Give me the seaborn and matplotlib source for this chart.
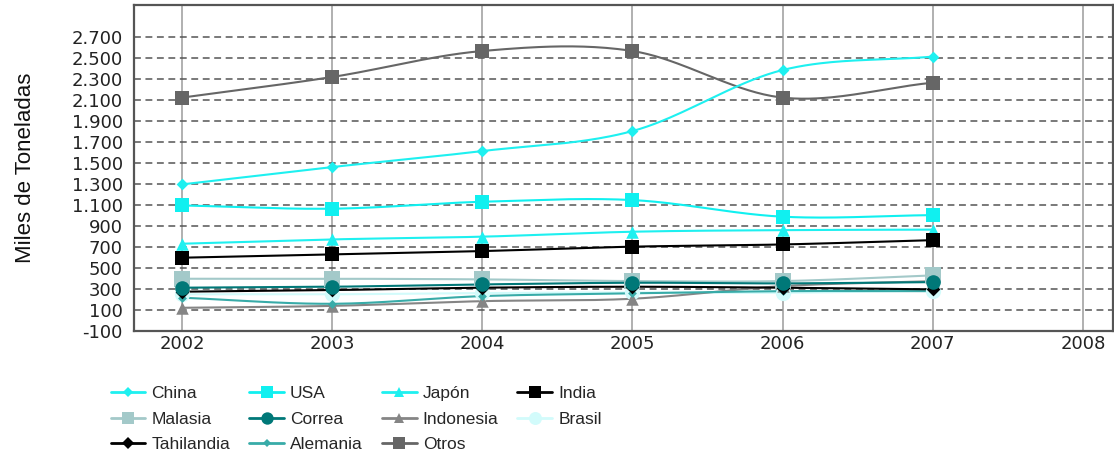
import numpy as np
import pandas as pd
import matplotlib
matplotlib.use("Agg")
import matplotlib.pyplot as plt
from matplotlib.lines import Line2D
from matplotlib.ticker import FuncFormatter, FixedLocator
import seaborn as sns

# --- data (miles de toneladas) ---
years = [2002, 2003, 2004, 2005, 2006, 2007]
china = [1295, 1460, 1612, 1802, 2382, 2510]
usa = [1095, 1064, 1130, 1146, 988, 1003]
japon = [731, 772, 798, 845, 860, 865]
india = [598, 629, 661, 703, 724, 765]
malasia = [398, 398, 392, 376, 376, 430]
correa = [313, 322, 344, 360, 354, 366]
indonesia = [122, 140, 185, 208, 328, 375]
brasil = [250, 250, 262, 268, 265, 285]
tahilandia = [275, 290, 313, 322, 313, 297]
alemania = [218, 160, 233, 258, 280, 280]
otros = [2120, 2316, 2563, 2563, 2120, 2262]

y_ticks = [-100, 100, 300, 500, 700, 900, 1100, 1300, 1500, 1700,
           1900, 2100, 2300, 2500, 2700]
x_ticks = [2002, 2003, 2004, 2005, 2006, 2007, 2008]

series = {
    "China": china, "USA": usa, "Japón": japon, "India": india,
    "Malasia": malasia, "Correa": correa, "Indonesia": indonesia,
    "Brasil": brasil, "Tahilandia": tahilandia, "Alemania": alemania,
    "Otros": otros,
}

styles = {
    "China":      dict(color="#1ef0f0", marker="D", size=6),
    "USA":        dict(color="#10f0f0", marker="s", size=10),
    "Japón":      dict(color="#1ef0f0", marker="^", size=9),
    "India":      dict(color="#000000", marker="s", size=9.5),
    "Malasia":    dict(color="#a3c9c9", marker="s", size=11),
    "Correa":     dict(color="#007878", marker="o", size=10.5),
    "Indonesia":  dict(color="#858585", marker="^", size=9),
    "Brasil":     dict(color="#d2fbfb", marker="o", size=11),
    "Tahilandia": dict(color="#000000", marker="D", size=7),
    "Alemania":   dict(color="#38aba8", marker="D", size=4.5),
    "Otros":      dict(color="#666666", marker="s", size=10),
}

draw_order = ["Otros", "China", "USA", "Japón", "India", "Brasil", "Malasia",
              "Indonesia", "Alemania", "Tahilandia", "Correa"]


def smooth_path(x, y, steps=40):
    """Catmull-Rom curve through the points, for a smoothed line."""
    x = np.asarray(x, float)
    y = np.asarray(y, float)
    px = np.concatenate([[2 * x[0] - x[1]], x, [2 * x[-1] - x[-2]]])
    py = np.concatenate([[2 * y[0] - y[1]], y, [2 * y[-1] - y[-2]]])
    t = np.linspace(0, 1, steps, endpoint=False)
    xs, ys = [], []
    for i in range(1, len(px) - 2):
        for arr, out in ((px, xs), (py, ys)):
            p0, p1, p2, p3 = arr[i - 1], arr[i], arr[i + 1], arr[i + 2]
            out.append(0.5 * ((2 * p1) + (-p0 + p2) * t
                              + (2 * p0 - 5 * p1 + 4 * p2 - p3) * t ** 2
                              + (-p0 + 3 * p1 - 3 * p2 + p3) * t ** 3))
    xs = np.concatenate(xs + [[x[-1]]])
    ys = np.concatenate(ys + [[y[-1]]])
    return xs, ys


sns.set_theme(style="white")
plt.rcParams["font.family"] = ["DejaVu Sans"]

fig = plt.figure(figsize=(11.14, 4.58), dpi=100)
ax = fig.add_axes([0.1203, 0.277, 0.8787, 0.712])

# grid: solid vertical lines per year, dashed horizontal lines
for xv in x_ticks:
    ax.axvline(xv, color="#aaaaaa", lw=1.3, zorder=0)
for yv in y_ticks[1:]:
    ax.axhline(yv, color="#555555", lw=1.1, ls=(0, (4.5, 3)), zorder=0)

for name in draw_order:
    vals = series[name]
    st = styles[name]
    sx, sy = smooth_path(years, vals)
    curve = pd.DataFrame({"year": sx, "value": sy})
    sns.lineplot(data=curve, x="year", y="value", color=st["color"],
                 lw=1.5, sort=False, estimator=None, ax=ax, zorder=2)
    pts = pd.DataFrame({"year": years, "value": vals})
    sns.scatterplot(data=pts, x="year", y="value", color=st["color"],
                    marker=st["marker"], s=st["size"] ** 2, linewidth=0,
                    ax=ax, zorder=3)

ax.set_xlim(2001.68, 2008.2)
ax.set_ylim(-100, 3000)
ax.xaxis.set_major_locator(FixedLocator(x_ticks))
ax.yaxis.set_major_locator(FixedLocator(y_ticks))
ax.yaxis.set_major_formatter(
    FuncFormatter(lambda v, p: f"{int(v):,}".replace(",", ".")))
ax.tick_params(axis="both", length=0, labelsize=13, colors="#222222")
ax.tick_params(axis="y", pad=8)
ax.tick_params(axis="x", pad=3)
ax.set_xlabel("")
ax.set_ylabel("Miles de Toneladas",
              family=["Liberation Sans Narrow", "Liberation Sans", "DejaVu Sans"],
              fontsize=16, color="#111111")
ax.yaxis.set_label_coords(-0.1, 0.5)

for sp in ax.spines.values():
    sp.set_color("#555555")
    sp.set_linewidth(1.6)

# legend, filled column by column
legend_order = ["China", "Malasia", "Tahilandia",
                "USA", "Correa", "Alemania",
                "Japón", "Indonesia", "Otros",
                "India", "Brasil"]
handles = [Line2D([], [], color=styles[n]["color"], lw=2,
                  marker=styles[n]["marker"],
                  markersize=styles[n]["size"] * 0.85, markeredgewidth=0)
           for n in legend_order]
fig.legend(handles, legend_order, loc="upper left",
           bbox_to_anchor=(0.093, 0.172), ncol=4, frameon=False,
           prop={"family": ["Liberation Sans", "DejaVu Sans"], "size": 12.5},
           handlelength=2.0, handletextpad=0.35, columnspacing=1.1,
           labelspacing=0.6, borderaxespad=0)

fig.savefig("out.png", dpi=100)
